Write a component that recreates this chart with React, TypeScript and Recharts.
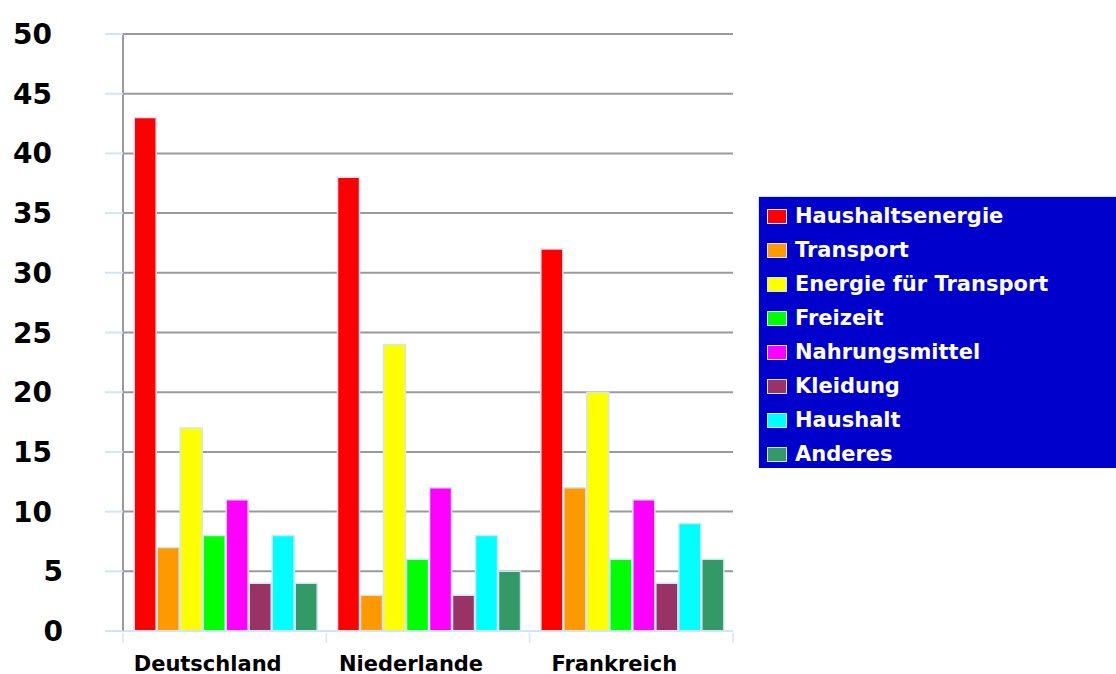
import React from "react";
import { Bar, BarChart, CartesianGrid, XAxis, YAxis } from "recharts";

const countries = ["Deutschland", "Niederlande", "Frankreich"];
const seriesNames = [
  "Haushaltsenergie",
  "Transport",
  "Energie für Transport",
  "Freizeit",
  "Nahrungsmittel",
  "Kleidung",
  "Haushalt",
  "Anderes",
];
const seriesColors = ["#FF0000", "#FF9900", "#FFFF00", "#00FF00", "#FF00FF", "#993366", "#00FFFF", "#339966"];
const haushaltsenergie = [43, 38, 32];
const transport = [7, 3, 12];
const energieTransport = [17, 24, 20];
const freizeit = [8, 6, 6];
const nahrungsmittel = [11, 12, 11];
const kleidung = [4, 3, 4];
const haushalt = [8, 8, 9];
const anderes = [4, 5, 6];
const yTicks = [0, 5, 10, 15, 20, 25, 30, 35, 40, 45, 50];

const seriesValues = [haushaltsenergie, transport, energieTransport, freizeit, nahrungsmittel, kleidung, haushalt, anderes];

const data = countries.map((c, i) => {
  const row: Record<string, string | number> = { country: c };
  seriesNames.forEach((s, k) => {
    row[s] = seriesValues[k][i];
  });
  return row;
});

const FONT = "'DejaVu Sans', Verdana, sans-serif";
const EDGE = "#cfe6f7";
const GRID = "#9a9a9a";

const W = 1116;
const H = 674;
const MARGIN = { top: 34, right: 383, left: 10, bottom: 0 };
const Y_WIDTH = 113;
const PLOT_W = W - MARGIN.left - Y_WIDTH - MARGIN.right;
const HALF_BAND = PLOT_W / countries.length / 2;

function YTick(props: any) {
  const { y, payload } = props;
  const v = payload.value as number;
  return (
    <text x={v >= 10 ? 52 : 63} y={y} dy={10} textAnchor="end" fontFamily={FONT} fontWeight="bold" fontSize={28} fill="#000">
      {v}
    </text>
  );
}

// labels sit a bit left of the band centre in the original
function XTick(props: any) {
  const { x, y, payload, index } = props;
  const last = index === countries.length - 1;
  return (
    <g>
      <line x1={x - HALF_BAND} x2={x - HALF_BAND} y1={y - 6} y2={y + 4} stroke={EDGE} strokeWidth={1.5} />
      {last && <line x1={x + HALF_BAND} x2={x + HALF_BAND} y1={y - 6} y2={y + 4} stroke={EDGE} strokeWidth={1.5} />}
      <text x={x - 17} y={y + 32} textAnchor="middle" fontFamily={FONT} fontWeight="bold" fontSize={21} fill="#000">
        {payload.value}
      </text>
    </g>
  );
}

function LegendBox() {
  return (
    <div
      style={{
        position: "absolute",
        left: 758,
        top: 196,
        background: "#0000CC",
        borderLeft: `1.5px solid ${EDGE}`,
        borderTop: `1.5px solid ${EDGE}`,
        width: 358,
        height: 272,
        boxSizing: "border-box",
        paddingTop: 2,
        paddingLeft: 8,
      }}
    >
      {seriesNames.map((s, i) => (
        <div key={s} style={{ display: "flex", alignItems: "center", height: 34 }}>
          <span
            style={{
              display: "inline-block",
              width: 18,
              height: 13,
              background: seriesColors[i],
              border: `1.5px solid ${EDGE}`,
              marginRight: 8,
            }}
          />
          <span style={{ color: "#fff", fontFamily: FONT, fontWeight: "bold", fontSize: 21, lineHeight: "34px" }}>{s}</span>
        </div>
      ))}
    </div>
  );
}

export default function App() {
  return (
    <div style={{ position: "absolute", left: 0, top: 0, width: W, height: H, background: "#fff" }}>
      <BarChart width={W} height={H} data={data} margin={MARGIN} barCategoryGap="5.5%" barGap={1}>
        <CartesianGrid vertical={false} stroke={GRID} strokeWidth={2} />
        <XAxis
          dataKey="country"
          height={43}
          axisLine={{ stroke: EDGE, strokeWidth: 2 }}
          tickLine={false}
          tick={<XTick />}
          interval={0}
        />
        <YAxis
          domain={[0, 50]}
          ticks={yTicks}
          width={Y_WIDTH}
          axisLine={{ stroke: GRID, strokeWidth: 2 }}
          tickLine={{ stroke: EDGE, strokeWidth: 2 }}
          tickSize={18}
          tick={<YTick />}
          interval={0}
        />
        <YAxis
          yAxisId="right"
          orientation="right"
          domain={[0, 50]}
          width={0}
          axisLine={{ stroke: GRID, strokeWidth: 2 }}
          tickLine={false}
          tick={false}
        />
        {seriesNames.map((s, i) => (
          <Bar key={s} dataKey={s} fill={seriesColors[i]} stroke={EDGE} strokeWidth={1.5} isAnimationActive={false} />
        ))}
      </BarChart>
      <LegendBox />
    </div>
  );
}
